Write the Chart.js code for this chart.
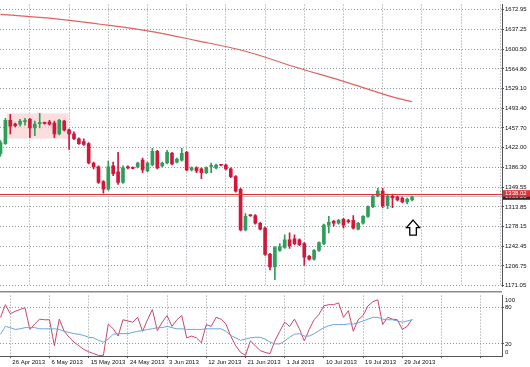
<!DOCTYPE html>
<html>
<head>
<meta charset="utf-8">
<script src="https://cdn.jsdelivr.net/npm/chart.js@4.4.1/dist/chart.umd.min.js"></script>
<style>
  html, body { margin: 0; padding: 0; background: #fff; }
  #wrap { position: relative; width: 530px; height: 367px; overflow: hidden; background: #fff; }
  #main { position: absolute; left: 0; top: 0; }
  #osc { position: absolute; left: 0; top: 291px; }
</style>
</head>
<body>
<div id="wrap">
  <canvas id="main" width="530" height="291" style="width:530px;height:291px"></canvas>
  <canvas id="osc" width="530" height="76" style="width:530px;height:76px"></canvas>
</div>
<script>
// daily gold bars, 24 Apr 2013 .. 31 Jul 2013 (sunday bars included)
const opens = [1411.4, 1429.1, 1471.5, 1464.5, 1464.5, 1468.9, 1473.3, 1457.4, 1465.3, 1466.2,
  1468.0, 1466.2, 1446.8, 1469.8, 1453.9, 1446.8, 1437.9, 1432.6, 1429.1, 1393.8,
  1386.7, 1360.2, 1346.1, 1388.5, 1377.9, 1358.4, 1386.7, 1385.8, 1386.7, 1399.1,
  1379.6, 1390.2, 1415.0, 1388.5, 1393.8, 1411.4, 1395.5, 1399.1, 1413.2, 1381.4,
  1384.9, 1383.2, 1376.1, 1387.6, 1384.9, 1390.2, 1390.2, 1383.2, 1369.0, 1346.1,
  1271.9, 1298.4, 1298.4, 1284.2, 1275.4, 1227.7, 1204.7, 1234.8, 1240.1, 1254.2,
  1256.0, 1254.2, 1247.1, 1224.2, 1218.9, 1234.8, 1247.1, 1280.7, 1287.8, 1284.2,
  1291.3, 1287.8, 1289.5, 1273.6, 1284.2, 1296.6, 1314.3, 1333.7, 1342.5, 1316.0,
  1333.7, 1331.9, 1330.2, 1323.1, 1326.6];
const highs = [1434.4, 1475.1, 1482.1, 1466.2, 1473.3, 1475.1, 1475.1, 1469.8, 1483.9, 1468.0,
  1471.5, 1469.8, 1473.3, 1471.5, 1455.6, 1450.3, 1439.7, 1437.9, 1430.9, 1395.5,
  1388.5, 1362.0, 1397.3, 1395.5, 1413.2, 1388.5, 1388.5, 1386.7, 1395.5, 1402.6,
  1395.5, 1420.3, 1416.7, 1395.5, 1416.7, 1413.2, 1402.6, 1420.3, 1415.0, 1386.7,
  1386.7, 1384.9, 1386.7, 1393.8, 1392.0, 1391.1, 1392.0, 1384.9, 1370.8, 1347.9,
  1301.9, 1300.1, 1300.1, 1286.0, 1277.2, 1229.4, 1241.8, 1247.1, 1263.0, 1266.6,
  1263.0, 1256.0, 1248.9, 1225.9, 1236.5, 1250.6, 1282.5, 1296.6, 1289.5, 1291.3,
  1293.1, 1291.3, 1298.4, 1286.0, 1298.4, 1316.0, 1335.5, 1347.9, 1347.9, 1337.2,
  1337.2, 1333.7, 1331.9, 1330.2, 1333.7];
const lows = [1406.1, 1427.4, 1446.8, 1459.2, 1460.9, 1462.7, 1439.7, 1443.3, 1457.4, 1464.5,
  1462.7, 1439.7, 1445.0, 1452.1, 1418.5, 1436.2, 1427.4, 1425.6, 1392.0, 1383.2,
  1356.7, 1339.0, 1344.3, 1370.8, 1354.9, 1356.7, 1383.2, 1383.2, 1384.9, 1376.1,
  1377.9, 1388.5, 1383.2, 1386.7, 1392.0, 1390.2, 1393.8, 1397.3, 1379.6, 1379.6,
  1376.1, 1365.5, 1374.3, 1376.1, 1383.2, 1388.5, 1381.4, 1367.3, 1340.8, 1270.1,
  1270.1, 1296.6, 1282.5, 1271.9, 1225.9, 1199.4, 1181.7, 1233.0, 1238.3, 1238.3,
  1245.4, 1243.6, 1208.2, 1217.1, 1217.1, 1233.0, 1245.4, 1266.6, 1278.9, 1282.5,
  1275.4, 1284.2, 1273.6, 1271.9, 1282.5, 1294.8, 1312.5, 1331.9, 1312.5, 1310.7,
  1312.5, 1324.9, 1321.3, 1319.6, 1324.9];
const closes = [1430.9, 1471.5, 1460.9, 1461.8, 1469.8, 1470.7, 1457.4, 1464.5, 1466.2, 1465.7,
  1464.5, 1446.8, 1471.5, 1453.9, 1446.8, 1437.9, 1429.1, 1427.4, 1393.8, 1386.7,
  1358.4, 1346.1, 1386.7, 1374.3, 1358.4, 1384.9, 1384.9, 1384.1, 1393.8, 1381.4,
  1393.8, 1415.0, 1384.9, 1393.8, 1413.2, 1392.0, 1400.8, 1411.4, 1381.4, 1384.9,
  1379.6, 1376.1, 1384.9, 1388.5, 1390.2, 1389.7, 1383.2, 1369.0, 1342.5, 1271.9,
  1296.6, 1297.9, 1284.2, 1273.6, 1227.7, 1204.7, 1240.1, 1241.8, 1254.2, 1243.6,
  1247.1, 1245.4, 1222.4, 1218.9, 1234.8, 1248.9, 1280.7, 1286.0, 1284.2, 1289.5,
  1280.7, 1287.3, 1275.4, 1284.2, 1296.6, 1314.3, 1333.7, 1342.5, 1316.0, 1333.7,
  1330.2, 1326.6, 1323.1, 1328.4, 1331.9];

// slow moving average, read at every tenth bar
const maBars = [0, 10, 20, 30, 40, 50, 60, 70, 80, 84];
const maValues = [1664.1, 1657.1, 1646.5, 1634.1, 1616.4, 1597.0, 1568.7, 1542.2, 1514.0, 1505.1];

// oscillator window (0..100)
const oscMain = [64, 85, 70, 74, 77, 80, 44, 53, 61, 60,
  60, 17, 61, 41, 31, 23, 17, 11, 7, 4,
  1, 1, 53, 45, 33, 60, 58, 56, 64, 41,
  60, 77, 42, 56, 67, 49, 60, 67, 30, 33,
  30, 22, 52, 49, 64, 61, 53, 33, 17, 6,
  1, 25, 17, 9, 6, 4, 25, 41, 56, 49,
  61, 45, 25, 44, 60, 69, 83, 85, 85, 88,
  64, 75, 41, 60, 67, 83, 90, 93, 52, 64,
  61, 60, 44, 49, 61];
const oscSignal = [36, 49, 47, 44, 45, 47, 47, 47, 45, 45,
  45, 45, 44, 41, 39, 37, 36, 34, 31, 30,
  26, 23, 28, 36, 37, 37, 37, 39, 41, 42,
  44, 45, 47, 47, 49, 47, 45, 45, 44, 44,
  44, 44, 45, 45, 45, 45, 41, 34, 30, 26,
  28, 30, 31, 31, 28, 23, 20, 20, 25, 31,
  36, 37, 33, 33, 37, 42, 47, 50, 52, 52,
  52, 53, 53, 55, 58, 61, 64, 64, 61, 60,
  60, 58, 56, 58, 60];
const oscLevels = [20, 80];

const priceTicks = [1672.95, 1637.25, 1600.50, 1564.80, 1529.10, 1493.40, 1457.70, 1422.00,
  1386.30, 1349.55, 1313.85, 1278.15, 1242.45, 1206.75, 1171.05];
const dateTicks = ['26 Apr 2013', '6 May 2013', '15 May 2013', '24 May 2013', '3 Jun 2013',
  '12 Jun 2013', '21 Jun 2013', '1 Jul 2013', '10 Jul 2013', '19 Jul 2013', '29 Jul 2013'];
const firstTickBar = 2;
const barsPerTick = 8;

const levelPrice = 1338.02;
const bidPrice = 1333.2;
const zoneBars = [1.3, 13.9];
const zonePrices = [1438, 1484];
const arrowBar = 84.2;
const arrowPrice = 1290;

const xMin = -0.1, xMax = 102.35;
const GREEN = '#2f9e58';
const RED = '#d3163c';
const GRID = '#8e98a2';
const AXIS = '#555';
const FONT = { family: 'Liberation Sans, Arial, sans-serif', size: 6 };

const up = (i) => closes[i] >= opens[i];
const colors = closes.map((c, i) => up(i) ? GREEN : RED);

function dateTickBuilder(scale) {
  const t = [];
  for (let b = firstTickBar; b <= xMax; b += barsPerTick) t.push({ value: b });
  scale.ticks = t;
}

const mainDecor = {
  id: 'mainDecor',
  beforeDatasetsDraw(chart) {
    const { ctx, chartArea: a, scales: { x, y } } = chart;
    ctx.save();
    ctx.fillStyle = 'rgba(250, 200, 200, 0.6)';
    const x1 = x.getPixelForValue(zoneBars[0]), x2 = x.getPixelForValue(zoneBars[1]);
    const y1 = y.getPixelForValue(zonePrices[1]), y2 = y.getPixelForValue(zonePrices[0]);
    ctx.fillRect(x1, y1, x2 - x1, y2 - y1);
    // bid line
    const yb = Math.round(y.getPixelForValue(bidPrice)) + 0.5;
    ctx.strokeStyle = '#c4c4c4';
    ctx.lineWidth = 1;
    ctx.beginPath(); ctx.moveTo(a.left, yb); ctx.lineTo(a.right, yb); ctx.stroke();
    ctx.restore();
  },
  afterDatasetsDraw(chart) {
    const { ctx, chartArea: a, scales: { x, y } } = chart;
    ctx.save();
    const yl = Math.round(y.getPixelForValue(levelPrice)) + 0.5;
    ctx.strokeStyle = '#e0303a';
    ctx.lineWidth = 1;
    ctx.beginPath(); ctx.moveTo(a.left, yl); ctx.lineTo(a.right, yl); ctx.stroke();

    // hollow up arrow
    const ax = x.getPixelForValue(arrowBar), ay = y.getPixelForValue(arrowPrice);
    ctx.beginPath();
    ctx.moveTo(ax, ay);
    ctx.lineTo(ax + 6.5, ay + 7.5);
    ctx.lineTo(ax + 3.3, ay + 7.5);
    ctx.lineTo(ax + 3.3, ay + 15);
    ctx.lineTo(ax - 3.3, ay + 15);
    ctx.lineTo(ax - 3.3, ay + 7.5);
    ctx.lineTo(ax - 6.5, ay + 7.5);
    ctx.closePath();
    ctx.fillStyle = '#fff';
    ctx.fill();
    ctx.strokeStyle = '#000';
    ctx.lineWidth = 1.3;
    ctx.stroke();

    // price tags on the axis
    ctx.font = FONT.size + 'px ' + FONT.family;
    ctx.textBaseline = 'middle';
    ctx.textAlign = 'left';
    const ybid = y.getPixelForValue(bidPrice);
    ctx.fillStyle = '#2a2a2a';
    ctx.fillRect(a.right + 1, ybid - 2.5, chart.width - a.right - 1, 6);
    ctx.fillStyle = '#ddd';
    ctx.fillText(bidPrice.toFixed(2), a.right + 3, ybid + 0.5);
    const ylev = y.getPixelForValue(levelPrice);
    ctx.fillStyle = '#e0303a';
    ctx.fillRect(a.right + 1, ylev - 3.5, chart.width - a.right - 1, 6.5);
    ctx.fillStyle = '#fff';
    ctx.fillText(levelPrice.toFixed(2), a.right + 3, ylev - 0.2);
    ctx.restore();
  }
};

const mainChart = new Chart(document.getElementById('main'), {
  type: 'bar',
  data: {
    datasets: [
      {
        type: 'line',
        data: maBars.map((b, i) => ({ x: b, y: maValues[i] })),
        borderColor: '#e2625e',
        borderWidth: 1.2,
        pointRadius: 0,
        tension: 0.35,
        order: 3
      },
      {
        data: opens.map((o, i) => ({ x: i, y: [lows[i], highs[i]] })),
        backgroundColor: colors,
        barThickness: 1,
        grouped: false,
        order: 2
      },
      {
        data: opens.map((o, i) => ({ x: i, y: [o, closes[i]] })),
        backgroundColor: colors,
        barThickness: 3,
        minBarLength: 1,
        grouped: false,
        order: 1
      }
    ]
  },
  options: {
    responsive: false,
    animation: false,
    events: [],
    layout: { padding: 0 },
    plugins: { legend: { display: false }, tooltip: { enabled: false } },
    scales: {
      x: {
        type: 'linear',
        min: xMin,
        max: xMax,
        offset: false,
        afterBuildTicks: dateTickBuilder,
        afterFit: (s) => { s.height = 1; },
        ticks: { display: false },
        grid: { color: GRID, drawTicks: false },
        border: { display: false, dash: [1, 2] }
      },
      y: {
        position: 'right',
        min: 1169.4,
        max: 1681.8,
        afterBuildTicks: (s) => { s.ticks = priceTicks.map(v => ({ value: v })); },
        afterFit: (s) => { s.width = 28; },
        ticks: { font: FONT, color: '#111', padding: 1, callback: (v) => v.toFixed(2) },
        grid: { color: GRID, tickLength: 2, tickColor: AXIS, tickBorderDash: [] },
        border: { display: true, color: AXIS, width: 1, dash: [1, 2] }
      }
    }
  },
  plugins: [mainDecor]
});

const oscDecor = {
  id: 'oscDecor',
  afterDraw(chart) {
    const { ctx, chartArea: a } = chart;
    ctx.save();
    ctx.fillStyle = '#8a8a8a';
    ctx.fillRect(0, 0, a.right, 1.5);
    ctx.font = FONT.size + 'px ' + FONT.family;
    ctx.fillStyle = '#111';
    ctx.textAlign = 'left';
    ctx.textBaseline = 'middle';
    ctx.fillText('100', a.right + 3, a.top + 4.5);
    ctx.fillText('0', a.right + 3, a.bottom - 3.3);
    ctx.restore();
  }
};

const oscChart = new Chart(document.getElementById('osc'), {
  type: 'line',
  data: {
    datasets: [
      {
        data: oscSignal.map((v, i) => ({ x: i, y: v })),
        borderColor: '#6aa6dc',
        borderWidth: 1,
        pointRadius: 0
      },
      {
        data: oscMain.map((v, i) => ({ x: i, y: v })),
        borderColor: '#c8486a',
        borderWidth: 1,
        pointRadius: 0
      }
    ]
  },
  options: {
    responsive: false,
    animation: false,
    events: [],
    layout: { padding: { top: 0.5, left: 0, right: 0, bottom: 0 } },
    plugins: { legend: { display: false }, tooltip: { enabled: false } },
    scales: {
      x: {
        type: 'linear',
        min: xMin,
        max: xMax,
        afterBuildTicks: dateTickBuilder,
        afterFit: (s) => { s.height = 11; },
        ticks: {
          font: FONT, color: '#111', align: 'start', labelOffset: 2, padding: 1,
          maxRotation: 0, autoSkip: false,
          callback: (v) => dateTicks[(v - firstTickBar) / barsPerTick] || ''
        },
        grid: { color: GRID, tickLength: 2, tickColor: AXIS, tickBorderDash: [] },
        border: { display: true, color: AXIS, width: 1, dash: [1, 2] }
      },
      y: {
        position: 'right',
        min: 0,
        max: 100,
        afterBuildTicks: (s) => { s.ticks = oscLevels.map(v => ({ value: v })); },
        afterFit: (s) => { s.width = 28; },
        ticks: { font: FONT, color: '#111', padding: 1 },
        grid: { color: GRID, tickLength: 2, tickColor: AXIS, tickBorderDash: [] },
        border: { display: true, color: AXIS, width: 1, dash: [1, 2] }
      }
    }
  },
  plugins: [oscDecor]
});
</script>
</body>
</html>
